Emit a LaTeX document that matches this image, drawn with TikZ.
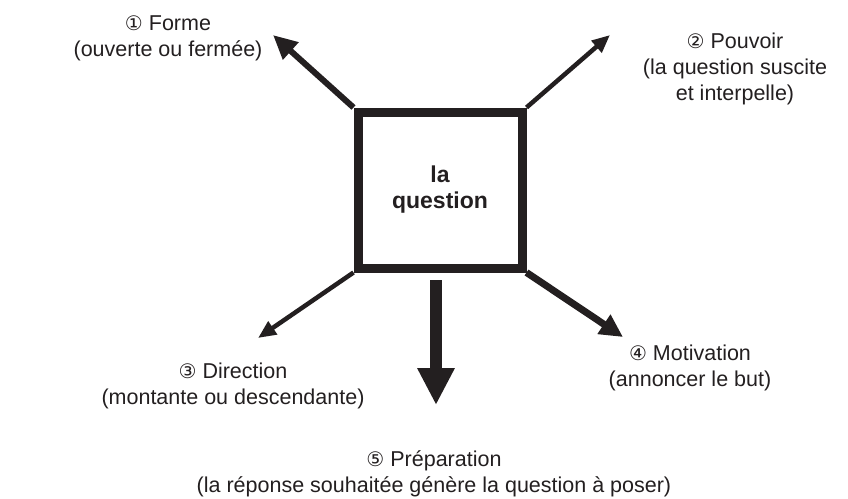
\documentclass[tikz,border=0pt]{standalone}
\usepackage{fontspec}
\setmainfont{Liberation Sans}
\newfontfamily\circfont{DejaVu Sans}
\usetikzlibrary{arrows.meta}
\definecolor{ink}{RGB}{35,31,32}
\newcommand{\cnum}[1]{{\circfont\fontsize{20}{20}\selectfont #1}}
\begin{document}
\begin{tikzpicture}[x=1pt,y=-1pt,
  lbl/.style={align=center,font=\fontsize{21.5}{26}\selectfont,text=ink,inner sep=0pt},
  arr/.style={draw=ink,line cap=butt}]
\useasboundingbox (0,0) rectangle (848,498);
% square
\node[draw=ink,line width=9pt,minimum width=164pt,minimum height=156pt,inner sep=0pt,
      align=center,font=\fontsize{23}{26}\selectfont\bfseries,text=ink] (sq) at (440,190) {la\\question};
% tips
\coordinate (t1) at (273,35);
\coordinate (t2) at (610,35);
\coordinate (t3) at (258,338);
\coordinate (t4) at (623,337);
\coordinate (s5) at (436,280);
\coordinate (t5) at (436,405);
% arrows
\draw[arr,line width=6pt,-{Triangle[length=24pt,width=22pt]}] (sq.north west) -- (t1);
\draw[arr,line width=4.5pt,-{Triangle[length=18pt,width=15pt]}] (sq.north east) -- (t2);
\draw[arr,line width=4.5pt,-{Triangle[length=18pt,width=15pt]}] (sq.south west) -- (t3);
\draw[arr,line width=7pt,-{Triangle[length=23pt,width=22pt]}] (sq.south east) -- (t4);
\draw[arr,line width=11.5pt,-{Triangle[length=37pt,width=35pt]}] (s5) -- (t5);
% labels
\node[lbl] (l1) at (168,38) {\cnum{①} Forme\\(ouverte ou fermée)};
\node[lbl] (l2) at (735,69) {\cnum{②} Pouvoir\\(la question suscite\\et interpelle)};
\node[lbl] (l3) at (233,386) {\cnum{③} Direction\\(montante ou descendante)};
\node[lbl] (l4) at (690,368) {\cnum{④} Motivation\\(annoncer le but)};
\node[lbl] (l5) at (434,474) {\cnum{⑤} Préparation\\(la réponse souhaitée génère la question à poser)};
\end{tikzpicture}
\end{document}
